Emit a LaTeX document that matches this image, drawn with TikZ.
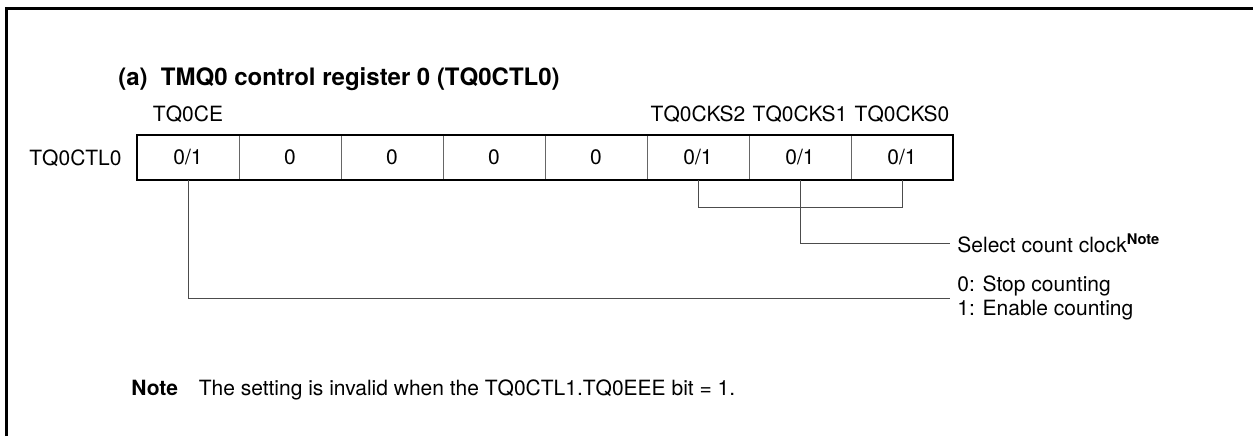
\documentclass[tikz,border=0pt]{standalone}
\usepackage{fontspec}
\setmainfont{TeX Gyre Heros}
\usetikzlibrary{positioning}

\newcommand\regfont{\fontsize{10.5}{12.4}\selectfont}
\newcommand\headfont{\fontsize{12}{14}\selectfont\bfseries}

\begin{document}
\begin{tikzpicture}[
  x=0.5pt, y=-0.5pt,
  every node/.style={font=\regfont},
  bitcell/.style={
    draw=black!60, line width=0.5pt,
    minimum width=51pt, minimum height=22.5pt,
    inner sep=0pt, outer sep=0pt
  },
  bitname/.style={inner sep=0pt, text depth=0pt},
  legend/.style={align=left, inner sep=3.5pt},
  wire/.style={draw=black!70, line width=0.5pt},
  frame/.style={draw=black, line width=1.5pt}
]
  \useasboundingbox (0,0) rectangle (1253,436);
  \draw[frame] (6,436) -- (6,8.5) -- (1253,8.5);

  \node[anchor=base west, inner sep=0pt, font=\headfont] (title) at (118,85)
    {(a)\hspace{0.55em}TMQ0 control register 0 (TQ0CTL0)};

  % register bits
  \node[bitcell, anchor=north west] (c0) at (137,135) {0/1};
  \node[bitcell, right=0pt of c0] (c1) {0};
  \node[bitcell, right=0pt of c1] (c2) {0};
  \node[bitcell, right=0pt of c2] (c3) {0};
  \node[bitcell, right=0pt of c3] (c4) {0};
  \node[bitcell, right=0pt of c4] (c5) {0/1};
  \node[bitcell, right=0pt of c5] (c6) {0/1};
  \node[bitcell, right=0pt of c6] (c7) {0/1};
  \draw[line width=1.1pt] (c0.north west) rectangle (c7.south east);

  \node[bitname, left=7.5pt of c0] (reg) {TQ0CTL0};
  \node[bitname, above=6.5pt of c0] (ce) {TQ0CE};
  \node[bitname, above=6.5pt of c5] (cks2) {TQ0CKS2};
  \node[bitname, above=6.5pt of c6] (cks1) {TQ0CKS1};
  \node[bitname, above=6.5pt of c7] (cks0) {TQ0CKS0};

  % legends
  \node[legend, anchor=west] (clk) at (950,243)
    {Select count clock\textsuperscript{\bfseries Note}};
  \node[legend, anchor=west] (cnt) at (950,298)
    {0: Stop counting\\1: Enable counting};

  \draw[wire] (c5.south) -- ++(0,27) -| (c7.south);
  \draw[wire] (c6.south) |- (clk.west);
  \draw[wire] (c0.south) |- (cnt.west);

  \node[anchor=base west, inner sep=0pt] (notehd) at (131,395) {\bfseries Note};
  \node[inner sep=0pt, base right=10pt of notehd] (notetx)
    {The setting is invalid when the TQ0CTL1.TQ0EEE bit = 1.};
\end{tikzpicture}
\end{document}
